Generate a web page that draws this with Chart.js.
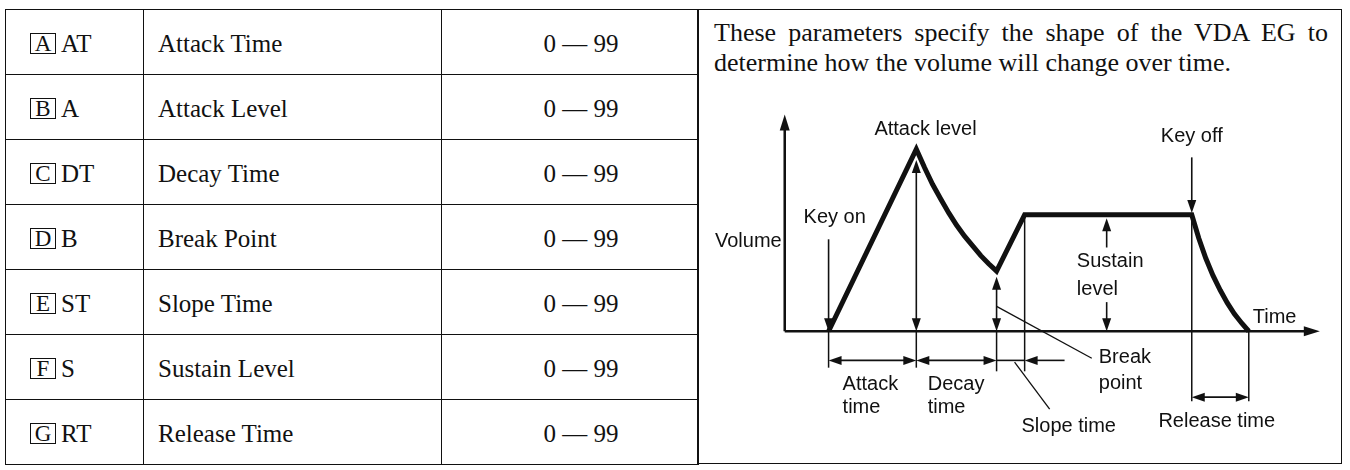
<!DOCTYPE html>
<html>
<head>
<meta charset="utf-8">
<script src="https://cdn.jsdelivr.net/npm/chart.js@4.4.1/dist/chart.umd.min.js"></script>
<style>
  html, body { margin: 0; padding: 0; background: #fff; }
  body {
    width: 1350px; height: 470px; position: relative; overflow: hidden;
    font-family: "Liberation Serif", "Times New Roman", serif; color: #111;
  }
  #params {
    position: absolute; left: 5px; top: 9px;
    border-collapse: collapse; table-layout: fixed;
  }
  #params td {
    border: 1.5px solid #111; height: 65px; padding: 4px 0 0 0;
    box-sizing: border-box; font-size: 25px; vertical-align: middle; white-space: nowrap;
  }
  #params td.c1 { width: 138px; padding-left: 24px; }
  #params td.c2 { width: 298px; padding-left: 14px; }
  #params td.c3 { width: 257px; padding-left: 22px; text-align: center; }
  .key {
    display: inline-block; box-sizing: border-box; border: 1.5px solid #111;
    width: 26px; height: 21px; line-height: 20px; font-size: 23px;
    text-align: center; margin-right: 5px; vertical-align: 1px;
  }
  #panel {
    position: absolute; left: 697px; top: 9px; width: 645px; height: 455px;
    border: 1.5px solid #111; box-sizing: border-box;
  }
  .note {
    position: absolute; left: 714px; width: 614px;
    font-size: 26px; line-height: 30px; white-space: nowrap;
  }
  #note1 { top: 18px; text-align: justify; text-align-last: justify; white-space: normal; }
  #note2 { top: 48px; }
  #eg { position: absolute; left: 697px; top: 100px; }
</style>
</head>
<body>
<table id="params"></table>
<div id="panel"></div>
<div class="note" id="note1">These parameters specify the shape of the VDA EG to</div>
<div class="note" id="note2">determine how the volume will change over time.</div>
<canvas id="eg" width="636" height="366"></canvas>

<script>
// table contents
const paramKeys = ['A', 'B', 'C', 'D', 'E', 'F', 'G'];
const paramAbbr = ['AT', 'A', 'DT', 'B', 'ST', 'S', 'RT'];
const paramNames = ['Attack Time', 'Attack Level', 'Decay Time', 'Break Point', 'Slope Time', 'Sustain Level', 'Release Time'];
const rangeMin = [0, 0, 0, 0, 0, 0, 0];
const rangeMax = [99, 99, 99, 99, 99, 99, 99];

// envelope shape (time units, volume 0-100)
const envTime = [0, 20, 21.9, 23.7, 25.6, 27.4, 29.2, 31.0, 32.9, 34.7, 36.5, 38.3, 44.7, 82.8,
  84.4, 86.0, 87.6, 89.3, 90.9, 92.5, 94.2, 95.8];
const envLevel = [0, 100, 89.8, 80.7, 72.5, 65, 58.2, 52.2, 46.7, 41.5, 37.1, 33, 64, 64,
  51.1, 40.1, 30.8, 22.5, 15.6, 9.6, 4.4, 0];

// key on, attack end, break point, slope end, key off, release end
const stageTimes = [0, 20, 38.3, 44.7, 82.8, 95.8];
const sustainLevel = 64;
const breakLevel = 33;

const axisLabels = ['Volume', 'Time'];
const markerLabels = ['Key on', 'Attack level', 'Key off', 'Sustain', 'level', 'Break', 'point'];
const stageLabels = ['Attack', 'Decay', 'time', 'Slope time', 'Release time'];

const INK = '#111';

// build the parameter table
const table = document.getElementById('params');
paramKeys.forEach((k, i) => {
  const tr = document.createElement('tr');
  tr.innerHTML =
    `<td class="c1"><span class="key">${k}</span>${paramAbbr[i]}</td>` +
    `<td class="c2">${paramNames[i]}</td>` +
    `<td class="c3">${rangeMin[i]} — ${rangeMax[i]}</td>`;
  table.appendChild(tr);
});

function line(ctx, x1, y1, x2, y2) {
  ctx.beginPath();
  ctx.moveTo(x1, y1);
  ctx.lineTo(x2, y2);
  ctx.stroke();
}

function head(ctx, x, y, ang, len, half) {
  ctx.beginPath();
  ctx.moveTo(x, y);
  ctx.lineTo(x - len * Math.cos(ang) + half * Math.sin(ang), y - len * Math.sin(ang) - half * Math.cos(ang));
  ctx.lineTo(x - len * Math.cos(ang) - half * Math.sin(ang), y - len * Math.sin(ang) + half * Math.cos(ang));
  ctx.closePath();
  ctx.fill();
}

// arrow from (x1,y1) to (x2,y2), heads optional at either end
function arrow(ctx, x1, y1, x2, y2, atStart, atEnd, len = 13, half = 4.5) {
  const ang = Math.atan2(y2 - y1, x2 - x1);
  const sx = atStart ? x1 + Math.cos(ang) * len * 0.8 : x1;
  const sy = atStart ? y1 + Math.sin(ang) * len * 0.8 : y1;
  const ex = atEnd ? x2 - Math.cos(ang) * len * 0.8 : x2;
  const ey = atEnd ? y2 - Math.sin(ang) * len * 0.8 : y2;
  line(ctx, sx, sy, ex, ey);
  if (atStart) head(ctx, x1, y1, ang + Math.PI, len, half);
  if (atEnd) head(ctx, x2, y2, ang, len, half);
}

/**
 * Axes, arrows, dimension lines and labels of the EG sketch
 */
const envNotes = {
  id: 'envNotes',
  afterDatasetsDraw(chart) {
    const ctx = chart.ctx;
    const X = (v) => chart.scales.x.getPixelForValue(v);
    const Y = (v) => chart.scales.y.getPixelForValue(v);
    const [tOn, tAtk, tBrk, tSlp, tOff, tRel] = stageTimes;

    ctx.save();
    ctx.strokeStyle = INK;
    ctx.fillStyle = INK;

    // axes
    ctx.lineWidth = 2.5;
    arrow(ctx, X(-10), Y(0), X(-10), Y(119), false, true, 16, 5);
    arrow(ctx, X(-10), Y(0), X(112), Y(0), false, true, 16, 5);

    // pointers
    ctx.lineWidth = 1.6;
    arrow(ctx, X(tOn), Y(50.5), X(tOn), Y(0), false, true);
    arrow(ctx, X(tAtk), Y(0), X(tAtk), Y(94), true, true);
    arrow(ctx, X(tOff), Y(95.5), X(tOff), Y(sustainLevel + 1), false, true);
    arrow(ctx, X(tBrk), Y(0), X(tBrk), Y(breakLevel - 3), true, true);
    arrow(ctx, X(63.4), Y(46), X(63.4), Y(sustainLevel - 2), false, true);
    arrow(ctx, X(63.4), Y(16), X(63.4), Y(0), false, true);

    // extension lines
    ctx.lineWidth = 1.5;
    line(ctx, X(tOn), Y(0), X(tOn), Y(-20));
    line(ctx, X(tAtk), Y(0), X(tAtk), Y(-20));
    line(ctx, X(tBrk), Y(0), X(tBrk), Y(-22));
    line(ctx, X(tSlp), Y(sustainLevel), X(tSlp), Y(-22));
    line(ctx, X(tOff), Y(sustainLevel), X(tOff), Y(-38.5));
    line(ctx, X(tRel), Y(0), X(tRel), Y(-38.5));

    // dimension arrows
    ctx.lineWidth = 1.6;
    arrow(ctx, X(tOn), Y(-16), X(tAtk), Y(-16), true, true);
    arrow(ctx, X(tAtk), Y(-16), X(tBrk), Y(-16), true, true);
    line(ctx, X(tBrk), Y(-16), X(tSlp), Y(-16));
    arrow(ctx, X(53.8), Y(-16), X(tSlp), Y(-16), false, true);
    arrow(ctx, X(tOff), Y(-36.2), X(tRel), Y(-36.2), true, true);

    // leader lines
    ctx.lineWidth = 1.3;
    line(ctx, X(tBrk), Y(13.7), X(60), Y(-14.8));
    line(ctx, X(42.4), Y(-17), X(50.4), Y(-42.8));

    // labels
    ctx.font = '20px "Liberation Sans", Arial, sans-serif';
    ctx.textBaseline = 'middle';

    ctx.textAlign = 'right';
    ctx.fillText(axisLabels[0], X(-10) - 3, Y(49.4));

    ctx.textAlign = 'center';
    ctx.fillText(markerLabels[0], X(1.4), Y(62.6));
    ctx.fillText(markerLabels[1], X(22.1), Y(111));
    ctx.fillText(markerLabels[2], X(tOff), Y(107));
    ctx.fillText(stageLabels[3], X(54.75), Y(-52.2));
    ctx.fillText(stageLabels[4], X(88.5), Y(-49.4));

    ctx.textAlign = 'left';
    ctx.fillText(axisLabels[1], X(96.7), Y(7.7));
    ctx.fillText(markerLabels[3], X(56.6), Y(38.4));
    ctx.fillText(markerLabels[4], X(56.6), Y(23));
    ctx.fillText(markerLabels[5], X(61.6), Y(-14.3));
    ctx.fillText(markerLabels[6], X(61.6), Y(-28.6));
    ctx.fillText(stageLabels[0], X(3.2), Y(-29.1));
    ctx.fillText(stageLabels[2], X(3.2), Y(-41.7));
    ctx.fillText(stageLabels[1], X(22.6), Y(-29.1));
    ctx.fillText(stageLabels[2], X(22.6), Y(-41.7));

    ctx.restore();
  },
};

new Chart(document.getElementById('eg'), {
  type: 'scatter',
  data: {
    datasets: [
      {
        label: 'VDA EG',
        data: envTime.map((t, i) => ({ x: t, y: envLevel[i] })),
        showLine: true,
        borderColor: INK,
        borderWidth: 5,
        borderJoinStyle: 'miter',
        pointRadius: 0,
        tension: 0,
        clip: false,
      },
    ],
  },
  options: {
    responsive: false,
    devicePixelRatio: 1,
    animation: false,
    layout: { padding: 0 },
    plugins: {
      legend: { display: false },
      tooltip: { enabled: false },
    },
    scales: {
      x: { type: 'linear', min: -30, max: 115, display: false },
      y: { type: 'linear', min: -74, max: 127, display: false },
    },
  },
  plugins: [envNotes],
});
</script>
</body>
</html>
